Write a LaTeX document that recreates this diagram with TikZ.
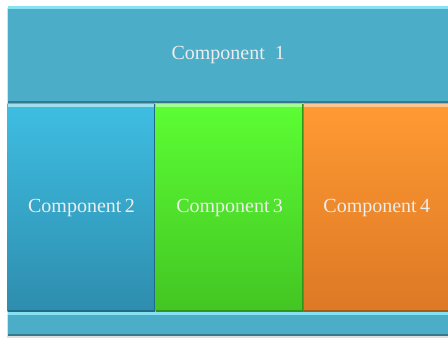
\documentclass[tikz,border=0pt]{standalone}
\usepackage{fontspec}
\setmainfont{Liberation Serif}
\usetikzlibrary{positioning, shadows}

\definecolor{tealbar}{HTML}{4BADC7}
\definecolor{tealedge}{HTML}{84E2F2}
\definecolor{blueTop}{HTML}{3EBEE2}
\definecolor{blueBot}{HTML}{2E8DAE}
\definecolor{greenTop}{HTML}{5CFE34}
\definecolor{greenBot}{HTML}{43C523}
\definecolor{orangeTop}{HTML}{FF9A33}
\definecolor{orangeBot}{HTML}{DD7825}

\begin{document}
\begin{tikzpicture}[x=1pt, y=1pt,
    comp/.style={rectangle, inner sep=0pt, anchor=north west,
        text=white!93!black, font=\fontsize{20}{24}\selectfont,
        drop shadow={opacity=0.25, shadow xshift=-0.5pt, shadow yshift=-1.5pt}},
    bevel/.style 2 args={path picture={
        \fill[#1] (path picture bounding box.north west) rectangle
            ([yshift=-3pt]path picture bounding box.north east);
        \fill[#2] (path picture bounding box.south west) rectangle
            ([yshift=2pt]path picture bounding box.south east);
        \fill[#2] (path picture bounding box.north east) rectangle
            ([xshift=-1.2pt]path picture bounding box.south east);}},
    bar/.style={comp, fill=tealbar, bevel={tealedge}{tealbar!70!black}},
    blue/.style={comp, top color=blueTop, bottom color=blueBot, bevel={blueTop!50!white}{blueBot!75!black}},
    green/.style={comp, top color=greenTop, bottom color=greenBot, bevel={greenTop!55!white}{greenBot!75!black}},
    orange/.style={comp, top color=orangeTop, bottom color=orangeBot, bevel={orangeTop!55!white}{orangeBot!75!black}}
]
\fill[white] (0,0) rectangle (448,-338);
\useasboundingbox (0,0) rectangle (448,-338);

% top layer
\node[bar, minimum width=441pt, minimum height=97pt] (Comp1) at (7.5,-6) {Component\ \ 1};

% middle row
\node[blue, minimum width=147.5pt, minimum height=208pt, below right=0pt and 0pt of Comp1.south west] (Comp2) {Component\,2};
\node[green, minimum width=148pt, minimum height=208pt, right=0pt of Comp2] (Comp3) {Component\,3};
\node[orange, minimum width=145.5pt, minimum height=208pt, right=0pt of Comp3] (Comp4) {Component\,4};

% bottom strip
\node[bar, minimum width=441pt, minimum height=24pt, below right=0pt and 0pt of Comp2.south west] (Base) {};

\end{tikzpicture}
\end{document}
